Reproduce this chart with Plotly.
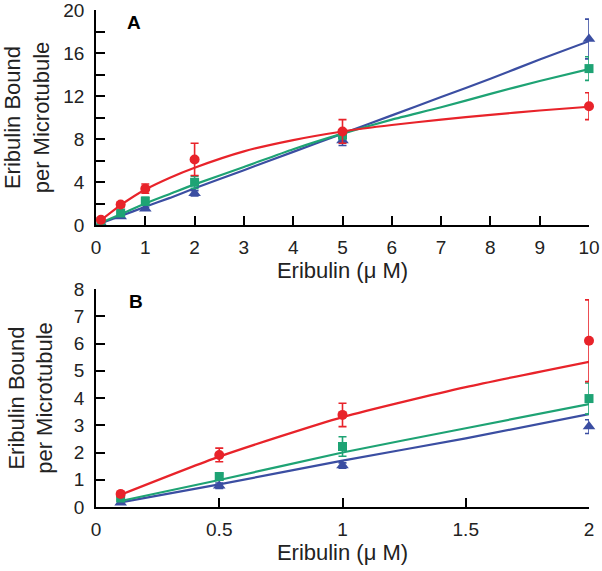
import plotly.graph_objects as go

# ---- data ----
conc = [0.1, 0.5, 1, 2, 5, 10]
red_y = [0.48, 1.91, 3.38, 6.1, 8.7, 11.05]
red_err = [0.1, 0.25, 0.43, 1.5, 1.1, 1.25]
green_y = [0.33, 1.12, 2.22, 3.98, 8.35, 14.55]
green_err = [0.05, 0.1, 0.36, 0.57, 0.3, 1.1]
blue_y = [0.16, 0.78, 1.52, 2.95, 7.85, 17.3]
blue_err = [0.05, 0.1, 0.1, 0.25, 0.45, 1.85]

fit_x = [0.1, 0.5, 1, 1.5, 2, 3, 4, 5, 6, 7, 8, 9, 10]
red_fit = [0.45, 1.85, 3.3, 4.4, 5.33, 6.85, 7.9, 8.7, 9.3, 9.8, 10.25, 10.65, 11.0]
green_fit = [0.22, 0.99, 2.0, 2.89, 3.78, 5.4, 7.05, 8.5, 9.8, 10.95, 12.2, 13.4, 14.5]
blue_fit = [0.17, 0.83, 1.7, 2.52, 3.41, 5.1, 6.8, 8.5, 10.2, 11.9, 13.6, 15.4, 17.1]

B_MAX_X = 2

RED = "#e8232a"
GREEN = "#1ea374"
BLUE = "#3b4ea2"
FONT = "Liberation Sans, Arial, sans-serif"

series = [
    ("blue", BLUE, "triangle-up", 11, blue_y, blue_err, blue_fit),
    ("green", GREEN, "square", 9, green_y, green_err, green_fit),
    ("red", RED, "circle", 10, red_y, red_err, red_fit),
]

fig = go.Figure()

for panel, (xa, ya) in enumerate([("x", "y"), ("x2", "y2")]):
    for name, col, sym, size, ys, errs, fit in series:
        if panel == 0:
            fx, fy = fit_x, fit
            px, py, pe = conc, ys, errs
        else:
            fx = [x for x in fit_x if x <= B_MAX_X]
            fy = fit[:len(fx)]
            px = [x for x in conc if x <= B_MAX_X]
            py = ys[:len(px)]
            pe = errs[:len(px)]
        fig.add_trace(go.Scatter(
            x=fx, y=fy, mode="lines", xaxis=xa, yaxis=ya,
            line=dict(color=col, width=2.2, shape="spline", smoothing=0.6),
            showlegend=False, hoverinfo="skip", cliponaxis=False))
        fig.add_trace(go.Scatter(
            x=px, y=py, mode="markers", xaxis=xa, yaxis=ya,
            marker=dict(color=col, symbol=sym, size=size, line=dict(width=0)),
            error_y=dict(type="data", array=pe, color=col, thickness=1.6, width=4),
            showlegend=False, cliponaxis=False, name=name))

axis_common = dict(
    showline=True, linecolor="black", linewidth=1.6,
    ticks="inside", ticklen=9, tickwidth=1.6, tickcolor="black",
    showgrid=False, zeroline=False, mirror=False, automargin=False,
    ticklabeloverflow="allow",
    tickfont=dict(family=FONT, size=19, color="#222"),
)

ytitle = "Eribulin Bound<br>per Microtubule"
xtitle = "Eribulin (μ M)"
TITLE_FONT = dict(family=FONT, size=22, color="#222")

fig.update_layout(
    width=602, height=571,
    margin=dict(l=96, r=13, t=10, b=64),
    paper_bgcolor="white", plot_bgcolor="white",
    font=dict(family=FONT, size=19, color="#222"),
    xaxis=dict(**axis_common, domain=[0, 1], anchor="y", range=[0, 10], dtick=1,
               ticklabelstandoff=4,
               title=dict(text=xtitle, font=TITLE_FONT, standoff=4)),
    yaxis=dict(**axis_common, domain=[0.5674, 1.0], anchor="x", range=[0, 20], dtick=4,
               minor=dict(dtick=2, ticks="inside", ticklen=9, tickwidth=1.6, tickcolor="black", showgrid=False),
               ticklabelstandoff=6,
               title=dict(text=ytitle, font=TITLE_FONT, standoff=15)),
    xaxis2=dict(**axis_common, domain=[0, 1], anchor="y2", range=[0, 2], dtick=0.5,
                ticklabelstandoff=4,
                title=dict(text=xtitle, font=TITLE_FONT, standoff=4)),
    yaxis2=dict(**axis_common, domain=[0, 0.4386], anchor="x2", range=[0, 8], dtick=1,
                ticklabelstandoff=6,
                title=dict(text=ytitle, font=TITLE_FONT, standoff=15)),
    annotations=[
        dict(text="<b>A</b>", xref="paper", yref="paper", x=0.058, y=1.0,
             xanchor="left", yanchor="top", showarrow=False,
             font=dict(family=FONT, size=19, color="black")),
        dict(text="<b>B</b>", xref="paper", yref="paper", x=0.062, y=0.4386,
             xanchor="left", yanchor="top", showarrow=False,
             font=dict(family=FONT, size=19, color="black")),
    ],
)

fig.write_html("out.html", config={"displayModeBar": False},
               post_script="document.body.style.margin='0px';")
